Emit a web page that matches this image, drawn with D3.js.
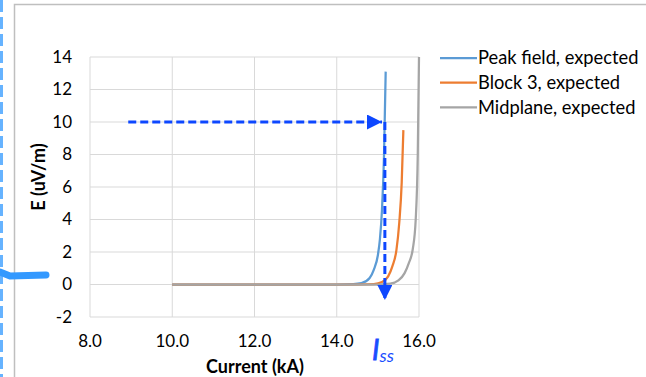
<!DOCTYPE html>
<html>
<head>
<meta charset="utf-8">
<script src="https://cdn.jsdelivr.net/npm/d3@7"></script>
<style>
  body { margin: 0; background: #fff; }
  svg { display: block; font-family: Lato, "Open Sans", sans-serif; }
</style>
</head>
<body>
<div id="chart"></div>
<script>
// series (current in kA, E in uV/m)
const peakI = [10.0, 14.0, 14.4, 14.6, 14.8, 14.9, 15.0, 15.05, 15.1, 15.15, 15.19];
const peakE = [0, 0, 0.02, 0.08, 0.4, 0.9, 1.8, 2.8, 4.6, 8.0, 13.1];
const blockI = [10.0, 14.5, 14.9, 15.1, 15.25, 15.35, 15.45, 15.52, 15.58, 15.62];
const blockE = [0, 0, 0.03, 0.15, 0.5, 1.1, 2.1, 3.8, 6.3, 9.5];
const midI = [10.0, 15.0, 15.3, 15.5, 15.65, 15.75, 15.85, 15.92, 15.97, 16.0];
const midE = [0, 0, 0.05, 0.25, 0.7, 1.3, 2.2, 4.0, 8.0, 14.0];

const seriesNames = ["Peak field, expected", "Block 3, expected", "Midplane, expected"];
const seriesColors = ["#5b9bd5", "#ed7d31", "#a5a5a5"];

const xTicks = [8, 10, 12, 14, 16];
const yTicks = [-2, 0, 2, 4, 6, 8, 10, 12, 14];

// annotation: E = 10 crossing -> I_ss
const arrowStartI = 8.93, arrowTipI = 15.1, issI = 15.17, arrowE = 10, arrowEndE = -0.95;

const W = 646, H = 377;
const margin = {top: 57, right: 227, bottom: 60, left: 90};

const x = d3.scaleLinear().domain([8, 16]).range([margin.left, W - margin.right]);
const y = d3.scaleLinear().domain([-2, 14]).range([H - margin.bottom, margin.top]);

const svg = d3.select("#chart").append("svg")
    .attr("width", W)
    .attr("height", H);

// chart frame (partly off-screen) + stray slide bits on the left
svg.append("rect")
    .attr("x", 14.5).attr("y", 4.5)
    .attr("width", 700).attr("height", 400)
    .attr("fill", "none").attr("stroke", "#bfbfbf").attr("stroke-width", 1.5);
svg.append("line")
    .attr("x1", 1.5).attr("x2", 1.5).attr("y1", 0).attr("y2", H)
    .attr("stroke", "#66b3ff").attr("stroke-width", 3)
    .attr("stroke-dasharray", "12,5");
svg.append("path")
    .attr("d", "M0,272 L10,276 L46,275")
    .attr("fill", "none").attr("stroke", "#3399ff")
    .attr("stroke-width", 7).attr("stroke-linecap", "round");

// grid
const grid = svg.append("g");
grid.selectAll(".gx").data(xTicks).enter().append("line")
    .attr("x1", d => x(d)).attr("x2", d => x(d))
    .attr("y1", y(14)).attr("y2", y(-2))
    .attr("stroke", "#d9d9d9").attr("stroke-width", 1);
grid.selectAll(".gy").data(yTicks).enter().append("line")
    .attr("x1", x(8)).attr("x2", x(16))
    .attr("y1", d => y(d)).attr("y2", d => y(d))
    .attr("stroke", "#d9d9d9").attr("stroke-width", 1);

// axes labels
svg.append("g").selectAll("text").data(yTicks).enter().append("text")
    .attr("x", x(8) - 18).attr("y", d => y(d))
    .attr("dy", "0.35em")
    .attr("text-anchor", "end")
    .attr("font-size", 17).attr("fill", "#000")
    .text(d => d);
svg.append("g").selectAll("text").data(xTicks).enter().append("text")
    .attr("x", d => x(d)).attr("y", y(-2) + 30)
    .attr("text-anchor", "middle")
    .attr("font-size", 17).attr("fill", "#000")
    .text(d3.format(".1f"));

svg.append("text")
    .attr("x", 255).attr("y", 373)
    .attr("text-anchor", "middle")
    .attr("font-size", 18).attr("font-weight", "bold")
    .text("Current (kA)");
svg.append("text")
    .attr("transform", "translate(45," + 177 + ") rotate(-90)")
    .attr("text-anchor", "middle")
    .attr("font-size", 18).attr("font-weight", "bold")
    .text("E (uV/m)");

// curves
const series = [
  {I: peakI, E: peakE},
  {I: blockI, E: blockE},
  {I: midI, E: midE}
];
const line = d3.line()
    .x(d => x(d[0]))
    .y(d => y(d[1]))
    .curve(d3.curveMonotoneX);

svg.append("g").selectAll("path").data(series).enter().append("path")
    .attr("d", s => line(d3.zip(s.I, s.E)))
    .attr("fill", "none")
    .attr("stroke", (s, i) => seriesColors[i])
    .attr("stroke-width", 2.25);

// legend
const legend = svg.append("g").selectAll("g").data(seriesNames).enter().append("g")
    .attr("transform", (d, i) => "translate(440," + (58 + i * 24.7) + ")");
legend.append("line")
    .attr("x1", 0).attr("x2", 37)
    .attr("stroke", (d, i) => seriesColors[i]).attr("stroke-width", 2.25);
legend.append("text")
    .attr("x", 38).attr("dy", "0.35em")
    .attr("font-size", 18.3)
    .text(d => d);

// dashed arrows
const arrowBlue = "#0d47ff";
svg.append("defs").append("marker")
    .attr("id", "tip")
    .attr("viewBox", "0 0 10 10")
    .attr("refX", 10).attr("refY", 5)
    .attr("markerUnits", "userSpaceOnUse")
    .attr("markerWidth", 17).attr("markerHeight", 15)
    .attr("orient", "auto")
  .append("path")
    .attr("d", "M0,0 L10,5 L0,10 Z")
    .attr("fill", arrowBlue);

svg.append("line")
    .attr("x1", x(arrowStartI)).attr("x2", x(arrowTipI))
    .attr("y1", y(arrowE)).attr("y2", y(arrowE))
    .attr("stroke", arrowBlue).attr("stroke-width", 3)
    .attr("stroke-dasharray", "8,4")
    .attr("marker-end", "url(#tip)");
svg.append("line")
    .attr("x1", x(issI)).attr("x2", x(issI))
    .attr("y1", y(arrowE)).attr("y2", y(arrowEndE))
    .attr("stroke", arrowBlue).attr("stroke-width", 3)
    .attr("stroke-dasharray", "8,4")
    .attr("marker-end", "url(#tip)");

const iss = svg.append("text")
    .attr("x", 372).attr("y", 360)
    .attr("fill", "#1a4dff")
    .attr("font-style", "italic");
iss.append("tspan").attr("font-size", 28)
    .attr("stroke", "#1a4dff").attr("stroke-width", 0.8).text("I");
iss.append("tspan").attr("font-size", 18).attr("dy", 2).text("ss");
</script>
</body>
</html>
